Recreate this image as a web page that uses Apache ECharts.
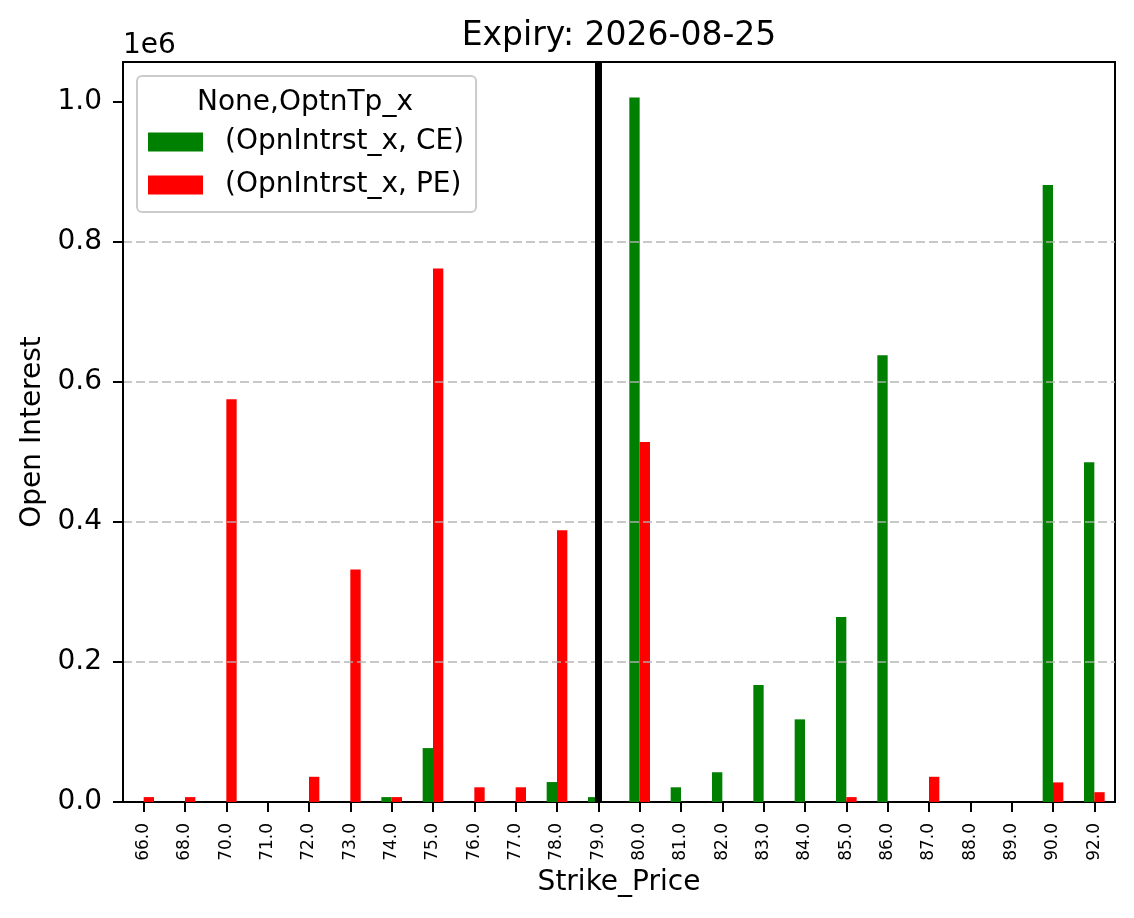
<!DOCTYPE html>
<html>
<head>
<meta charset="utf-8">
<script src="https://cdn.jsdelivr.net/npm/echarts@6/dist/echarts.min.js"></script>
<style>
  html, body { margin: 0; padding: 0; background: #fff; }
  #chart { width: 1134px; height: 918px; }
</style>
</head>
<body>
<div id="chart"></div>
<script>
// strike prices (x categories)
var strikes = ['66.0','68.0','70.0','71.0','72.0','73.0','74.0','75.0','76.0','77.0','78.0','79.0',
               '80.0','81.0','82.0','83.0','84.0','85.0','86.0','87.0','88.0','89.0','90.0','92.0'];
// open interest, calls
var ceOI = [0, 0, 0, 0, 0, 0, 7000, 77000, 0, 0, 28500, 7000,
            1006000, 21000, 42500, 167000, 118000, 264000, 638000, 0, 0, 0, 881000, 485000];
// open interest, puts
var peOI = [7000, 7000, 575000, 0, 36000, 332000, 7000, 762000, 21000, 21000, 388000, 0,
            514000, 0, 0, 0, 0, 7000, 0, 36000, 0, 0, 28000, 14000];
var yTicks = [0, 200000, 400000, 600000, 800000, 1000000];
var spotStrike = '79.0';

var font = 'DejaVu Sans';
var myChart = echarts.init(document.getElementById('chart'), null, { renderer: 'canvas' });

var option = {
  animation: false,
  backgroundColor: '#fff',
  textStyle: { fontFamily: font, color: '#000' },
  title: {
    text: 'Expiry: 2026-08-25',
    left: 619,
    textAlign: 'center',
    top: 20,
    padding: 0,
    textStyle: { fontFamily: font, fontSize: 33, fontWeight: 'normal', color: '#000' }
  },
  grid: {
    left: 123, right: 19, top: 62, bottom: 116,
    show: true, borderColor: '#000', borderWidth: 2, backgroundColor: 'transparent'
  },
  legend: {
    orient: 'vertical',
    left: 137, top: 76,
    padding: [52, 12, 13, 11],
    itemWidth: 55, itemHeight: 19, itemGap: 15,
    icon: 'rect',
    backgroundColor: 'rgba(255,255,255,0.8)',
    borderColor: '#cccccc', borderWidth: 2, borderRadius: 5,
    textStyle: { fontFamily: font, fontSize: 28, color: '#000', padding: [0, 0, 0, 17] },
    data: ['(OpnIntrst_x, CE)', '(OpnIntrst_x, PE)']
  },
  graphic: [
    {
      type: 'text', z: 100, x: 305, y: 103,
      style: { text: 'None,OptnTp_x', fontFamily: font, fontSize: 28, fill: '#000',
               align: 'center', verticalAlign: 'middle' }
    },
    {
      type: 'text', z: 100, x: 123, y: 46,
      style: { text: '1e6', fontFamily: font, fontSize: 28, fill: '#000',
               align: 'left', verticalAlign: 'middle' }
    }
  ],
  xAxis: {
    type: 'category',
    data: strikes,
    name: 'Strike_Price',
    nameLocation: 'middle',
    nameGap: 63,
    nameTextStyle: { fontFamily: font, fontSize: 28, color: '#000' },
    axisLine: { show: true, lineStyle: { color: '#000', width: 2 } },
    axisTick: { show: true, alignWithLabel: true, length: 10, lineStyle: { color: '#000', width: 2 } },
    axisLabel: { rotate: 90, interval: 0, margin: 21, fontFamily: font, fontSize: 17, color: '#000' },
    splitLine: { show: false }
  },
  yAxis: {
    type: 'value',
    min: 0,
    max: 1056700,
    interval: 200000,
    z: 5,
    name: 'Open Interest',
    nameLocation: 'middle',
    nameRotate: 90,
    nameGap: 76,
    nameTextStyle: { fontFamily: font, fontSize: 28, color: '#000' },
    axisLine: { show: true, lineStyle: { color: '#000', width: 2 } },
    axisTick: { show: true, length: 10, lineStyle: { color: '#000', width: 2 }, customValues: yTicks },
    axisLabel: {
      margin: 21, fontFamily: font, fontSize: 28, color: '#000',
      customValues: yTicks,
      formatter: function (v) { return (v / 1e6).toFixed(1); }
    },
    splitLine: {
      show: true, showMinLine: false, showMaxLine: false,
      lineStyle: { color: 'rgba(176,176,176,0.7)', width: 2, type: [9, 4] }
    }
  },
  series: [
    {
      name: '(OpnIntrst_x, CE)',
      type: 'bar',
      data: ceOI,
      barWidth: '25%',
      barGap: '0%',
      itemStyle: { color: '#008000' }
    },
    {
      name: '(OpnIntrst_x, PE)',
      type: 'bar',
      data: peOI,
      barWidth: '25%',
      barGap: '0%',
      itemStyle: { color: '#ff0000' }
    },
    {
      // vertical marker at the spot strike, centred on the category
      name: 'spot',
      type: 'line',
      data: [],
      z: 4,
      markLine: {
        silent: true,
        symbol: 'none',
        label: { show: false },
        lineStyle: { color: '#000', width: 7, type: 'solid' },
        data: [{ xAxis: spotStrike }]
      }
    }
  ]
};

myChart.setOption(option);
</script>
</body>
</html>
